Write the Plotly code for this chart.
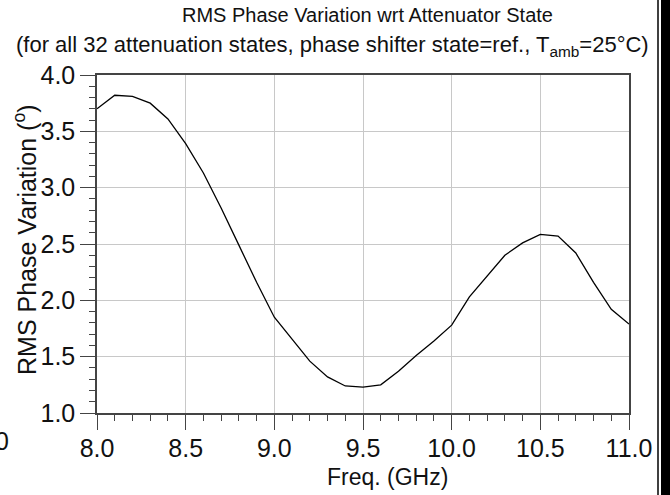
import plotly.graph_objects as go

freq = [8.0, 8.1, 8.2, 8.3, 8.4, 8.5, 8.6, 8.7, 8.8, 8.9, 9.0, 9.1, 9.2, 9.3, 9.4, 9.5,
        9.6, 9.7, 9.8, 9.9, 10.0, 10.1, 10.2, 10.3, 10.4, 10.5, 10.6, 10.7, 10.8, 10.9, 11.0]
rms_phase = [3.70, 3.82, 3.81, 3.75, 3.61, 3.39, 3.13, 2.82, 2.49, 2.16, 1.85, 1.65, 1.46, 1.32,
             1.24, 1.23, 1.25, 1.37, 1.51, 1.64, 1.78, 2.03, 2.22, 2.40, 2.51, 2.585, 2.57, 2.42,
             2.16, 1.92, 1.79]

x_ticks = [8.0, 8.5, 9.0, 9.5, 10.0, 10.5, 11.0]
y_ticks = [1.0, 1.5, 2.0, 2.5, 3.0, 3.5, 4.0]

title_text = "RMS Phase Variation wrt Attenuator State"
subtitle_text = "(for all 32 attenuation states, phase shifter state=ref., T<sub>amb</sub>=25°C)"
x_title = "Freq. (GHz)"
y_title = "RMS Phase Variation (<sup>o</sup>)"

W, H = 670, 495
L, R, T, B = 97, 41, 75, 82
pw, ph = W - L - R, H - T - B

def px(xp):
    return (xp - L) / pw

def py(yp):
    return 1 - (yp - T) / ph

FONT = "Liberation Sans, Arial, sans-serif"

fig = go.Figure()
fig.add_trace(go.Scatter(x=freq, y=rms_phase, mode="lines",
                         line=dict(color="black", width=1.3), showlegend=False))

axis_common = dict(
    showline=True, linecolor="#444", linewidth=1.5, mirror=True,
    showgrid=True, gridcolor="#c8c8c8", gridwidth=1.3,
    ticks="outside", ticklen=15, tickwidth=1.2, tickcolor="#444",
    zeroline=False,
    tickfont=dict(family=FONT, size=25, color="#111"),
)

fig.update_xaxes(range=[8.0, 11.0], tickvals=x_ticks,
                 ticktext=[f"{v:.1f}" for v in x_ticks],
                 ticklabelstandoff=-3,
                 minor=dict(ticks="outside", ticklen=6, dtick=0.1, tick0=8.0,
                            tickcolor="#444", tickwidth=1.2, showgrid=False),
                 **axis_common)
fig.update_yaxes(range=[1.0, 4.0], tickvals=y_ticks,
                 ticktext=[f"{v:.1f}" for v in y_ticks],
                 minor=dict(ticks="outside", ticklen=6, dtick=0.1, tick0=1.0,
                            tickcolor="#444", tickwidth=1.2, showgrid=False),
                 **axis_common)

fig.add_annotation(text=title_text, xref="paper", yref="paper", x=px(367), y=py(15),
                   xanchor="center", yanchor="middle", showarrow=False,
                   font=dict(family=FONT, size=20, color="#111"))
fig.add_annotation(text=subtitle_text, xref="paper", yref="paper", x=px(332), y=py(46),
                   xanchor="center", yanchor="middle", showarrow=False,
                   font=dict(family=FONT, size=22, color="#111"))
fig.add_annotation(text=x_title, xref="paper", yref="paper", x=px(387), y=py(477),
                   xanchor="center", yanchor="middle", showarrow=False,
                   font=dict(family=FONT, size=23, color="#111"))
fig.add_annotation(text=y_title, xref="paper", yref="paper", x=px(25), y=py(240),
                   xanchor="center", yanchor="middle", showarrow=False, textangle=-90,
                   font=dict(family=FONT, size=25, color="#111"))
fig.add_annotation(text="0", xref="paper", yref="paper", x=px(11), y=py(441),
                   xanchor="right", yanchor="middle", showarrow=False,
                   font=dict(family=FONT, size=25, color="#111"))

fig.add_shape(type="line", xref="paper", yref="paper", x0=px(658), x1=px(658),
              y0=py(H + 5), y1=py(-5), line=dict(color="black", width=1.5))
fig.add_shape(type="rect", xref="paper", yref="paper", x0=px(661), x1=px(690),
              y0=py(H + 5), y1=py(-5), line=dict(width=0), fillcolor="black")

fig.update_layout(width=W, height=H, margin=dict(l=L, r=R, t=T, b=B),
                  paper_bgcolor="white", plot_bgcolor="white",
                  font=dict(family=FONT, color="#111"))

fig.write_html("out.html")
